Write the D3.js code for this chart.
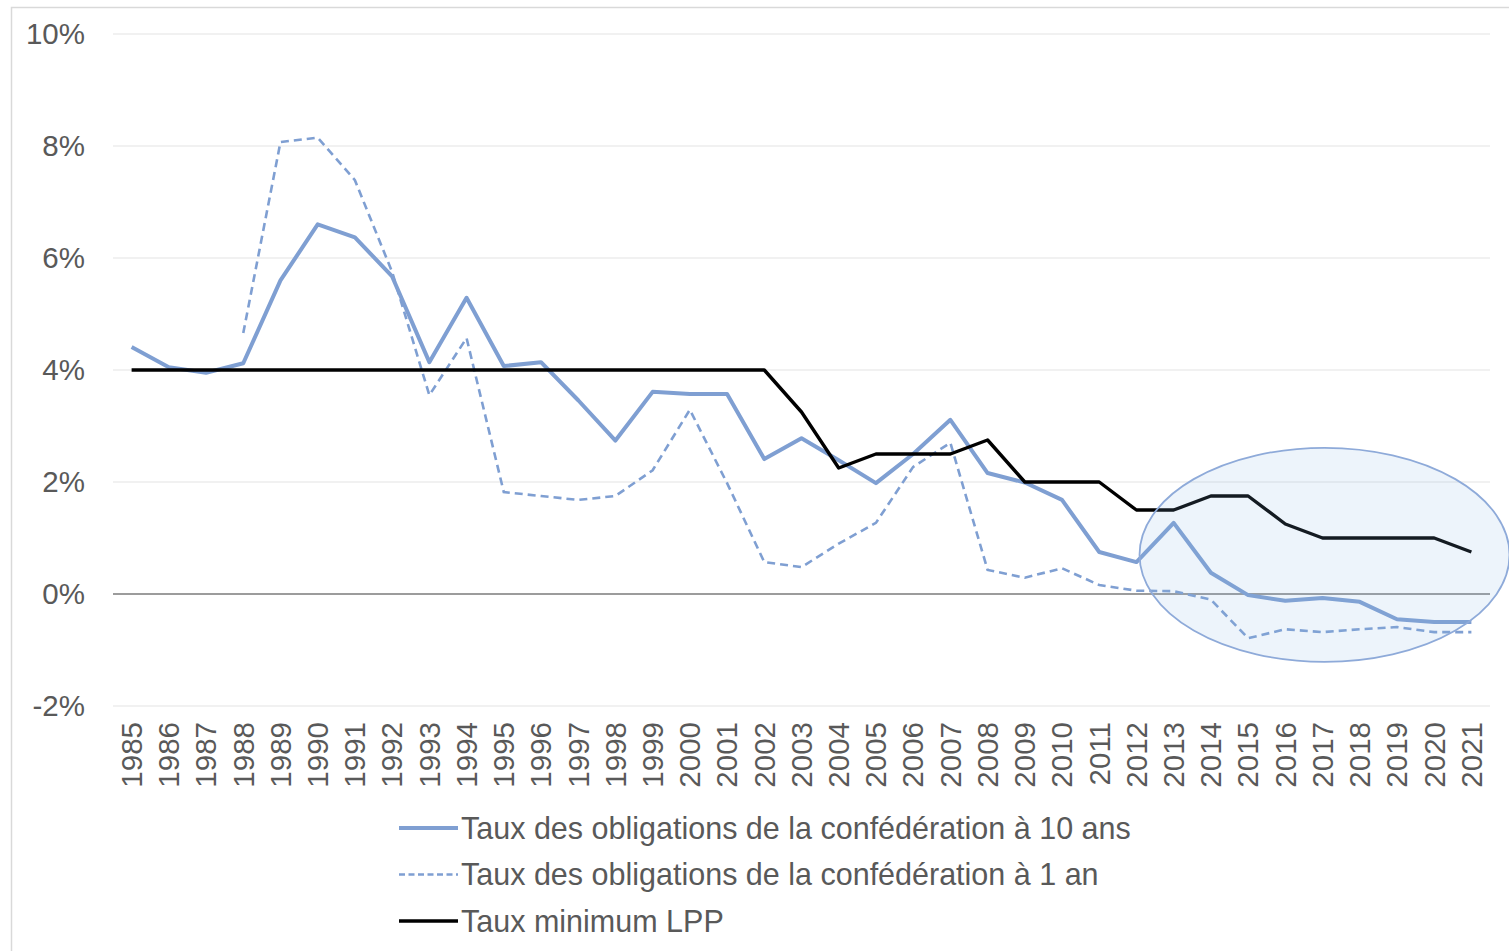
<!DOCTYPE html>
<html><head><meta charset="utf-8">
<script src="https://cdn.jsdelivr.net/npm/d3@7"></script>
<style>html,body{margin:0;padding:0;background:#fff;overflow:hidden}</style>
</head><body>
<svg id="c" width="1509" height="951"></svg>
<script>
const years = d3.range(1985, 2022).map(String);
const bond10 = [4.41,4.05,3.95,4.12,5.6,6.6,6.37,5.67,4.14,5.29,4.07,4.14,3.46,2.74,3.61,3.57,3.57,2.41,2.78,2.39,1.98,2.5,3.11,2.16,1.99,1.68,0.75,0.57,1.27,0.38,-0.02,-0.12,-0.07,-0.14,-0.45,-0.5,-0.5];
const bond1 = [null,null,null,4.66,8.07,8.15,7.39,5.75,3.55,4.57,1.82,1.75,1.68,1.75,2.21,3.29,1.98,0.57,0.48,0.9,1.27,2.27,2.7,0.43,0.29,0.46,0.16,0.06,0.05,-0.1,-0.79,-0.63,-0.68,-0.63,-0.59,-0.68,-0.68];
const lpp = [4,4,4,4,4,4,4,4,4,4,4,4,4,4,4,4,4,4,3.25,2.25,2.5,2.5,2.5,2.75,2,2,2,1.5,1.5,1.75,1.75,1.25,1,1,1,1,0.75];
const yTicks = [-2,0,2,4,6,8,10];
const legendLabels = ["Taux des obligations de la confédération à 10 ans","Taux des obligations de la confédération à 1 an","Taux minimum LPP"];

const svg = d3.select("#c");
const font = "'Liberation Sans', Arial, sans-serif";
const txt = "#595959";
const blue = "#7f9fd2";

svg.append("rect").attr("x",11.5).attr("y",7.5).attr("width",1700).attr("height",1200)
  .attr("fill","#fff").attr("stroke","#d9d9d9").attr("stroke-width",1.5);

const x = d3.scaleBand().domain(years).range([113,1490]);
const y = d3.scaleLinear().domain([-2,10]).range([706,34]);
const cx = d => x(d) + x.bandwidth()/2;

// gridlines
svg.append("g").selectAll("line").data(yTicks.filter(t=>t!==0)).join("line")
  .attr("x1",113).attr("x2",1490).attr("y1",d=>y(d)).attr("y2",d=>y(d))
  .attr("stroke","#ededed").attr("stroke-width",1.3);

// y axis labels
const yAxis = d3.axisLeft(y).tickValues(yTicks).tickSize(0).tickPadding(0).tickFormat(d=>d+"%");
const ya = svg.append("g").attr("transform","translate(85,0)").call(yAxis);
ya.select(".domain").remove();
ya.selectAll("text").attr("font-family",font).attr("font-size",29.5).attr("fill",txt);

// x axis labels
const xAxis = d3.axisBottom(x).tickSize(0).tickPadding(0);
const xa = svg.append("g").attr("transform","translate(0,722)").call(xAxis);
xa.select(".domain").remove();
xa.selectAll(".tick text").attr("font-family",font).attr("font-size",29.5).attr("fill",txt)
  .attr("text-anchor","end").attr("transform","rotate(-90)").attr("x",0).attr("y",0).attr("dx",0).attr("dy","0.35em");

// zero line
svg.append("line").attr("x1",113).attr("x2",1490).attr("y1",y(0)).attr("y2",y(0))
  .attr("stroke","#3a3a3a").attr("stroke-width",1.2);

const line = d3.line().defined(d=>d[1]!==null).x(d=>cx(d[0])).y(d=>y(d[1]));
const pts = arr => years.map((yr,i)=>[yr,arr[i]]);

svg.append("path").attr("d",line(pts(bond1))).attr("fill","none").attr("stroke",blue)
  .attr("stroke-width",2.6).attr("stroke-dasharray","8,5");
svg.append("path").attr("d",line(pts(bond10))).attr("fill","none").attr("stroke",blue)
  .attr("stroke-width",4).attr("stroke-linejoin","round");
svg.append("path").attr("d",line(pts(lpp))).attr("fill","none").attr("stroke","#000")
  .attr("stroke-width",3.4).attr("stroke-linejoin","round");

// highlight ellipse
svg.append("ellipse").attr("cx",cx("2017")+2).attr("cy",y(0.7)).attr("rx",185).attr("ry",107)
  .attr("fill","rgb(135,182,228)").attr("fill-opacity",0.15).attr("stroke","#8eaad9").attr("stroke-width",1.8);

// legend
const lg = svg.append("g");
const styles = [{c:blue,w:3.8,d:null},{c:blue,w:2.4,d:"6,3.5"},{c:"#000",w:3.4,d:null}];
legendLabels.forEach((l,i)=>{
  const yy = 828 + i*46.5;
  lg.append("line").attr("x1",399).attr("x2",458).attr("y1",yy).attr("y2",yy)
    .attr("stroke",styles[i].c).attr("stroke-width",styles[i].w).attr("stroke-dasharray",styles[i].d);
  lg.append("text").attr("x",461).attr("y",yy).attr("dy","0.35em").attr("font-family",font)
    .attr("font-size",30.5).attr("fill",txt).text(l);
});
</script>
</body></html>
